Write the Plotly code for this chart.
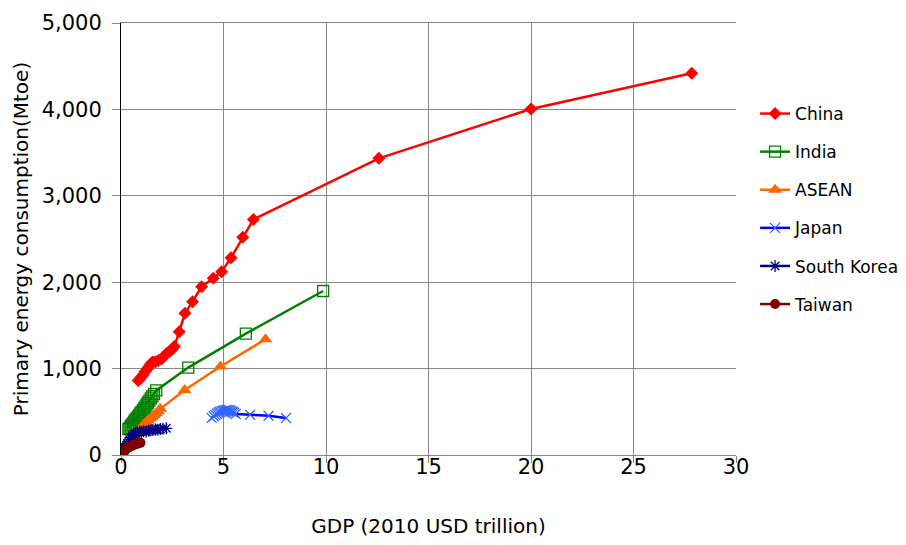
import plotly.graph_objects as go

# ---- data (GDP in 2010 USD trillion, primary energy consumption in Mtoe) ----
china_x = [0.84, 0.92, 1.00, 1.08, 1.18, 1.28, 1.36, 1.45, 1.55, 1.68, 1.82, 1.98, 2.12, 2.25, 2.39,
           2.50, 2.60, 2.84, 3.12, 3.49, 3.93, 4.50, 4.91, 5.37, 5.94, 6.46, 12.58, 20.0, 27.84]
china_y = [862, 880, 905, 930, 965, 995, 1025, 1055, 1075, 1080, 1095, 1110, 1150, 1180, 1205,
           1225, 1255, 1427, 1640, 1775, 1948, 2045, 2122, 2284, 2519, 2727, 3434, 4005, 4418]

india_x = [0.36, 0.41, 0.47, 0.52, 0.58, 0.64, 0.70, 0.76, 0.83, 0.89, 0.94, 1.00, 1.07, 1.13,
           1.19, 1.25, 1.31, 1.38, 1.45, 1.53, 1.61, 1.72, 3.28, 6.09, 9.86]
india_y = [300, 312, 330, 348, 367, 386, 405, 424, 443, 462, 482, 500, 521, 540,
           559, 582, 605, 630, 656, 680, 706, 748, 1012, 1405, 1898]

asean_x = [0.40, 0.48, 0.56, 0.64, 0.72, 0.80, 0.88, 0.96, 1.05, 1.14, 1.23, 1.32, 1.42,
           1.52, 1.62, 1.72, 1.82, 1.92, 3.11, 4.85, 7.05]
asean_y = [150, 172, 195, 218, 242, 266, 290, 312, 335, 358, 380, 400, 420,
           440, 462, 482, 505, 535, 752, 1025, 1340]

japan_x = [4.42, 4.52, 4.60, 4.68, 4.75, 4.82, 4.90, 4.97, 5.04, 5.10, 5.16, 5.22, 5.28, 5.34,
           5.40, 5.46, 5.52, 5.60, 6.30, 7.20, 8.05]
japan_y = [430, 448, 462, 478, 490, 498, 505, 510, 514, 518, 522, 512, 520, 510,
           505, 497, 488, 475, 465, 455, 428]

korea_x = [0.13, 0.16, 0.19, 0.23, 0.27, 0.32, 0.37, 0.42, 0.48, 0.55, 0.62, 0.70, 0.80, 0.91,
           1.00, 1.10, 1.23, 1.35, 1.46, 1.56, 1.68, 1.80, 1.92, 2.05, 2.21]
korea_y = [45, 58, 72, 90, 110, 130, 152, 175, 200, 222, 240, 252, 262, 270,
           268, 276, 272, 282, 286, 289, 295, 292, 300, 305, 309]

taiwan_x = [0.08, 0.12, 0.16, 0.20, 0.25, 0.30, 0.35, 0.40, 0.46, 0.52, 0.58, 0.65, 0.72, 0.80, 0.88, 0.95]
taiwan_y = [38, 46, 54, 62, 70, 78, 86, 93, 100, 106, 112, 118, 124, 130, 136, 142]

x_ticks = [0, 5, 10, 15, 20, 25, 30]
y_ticks = [0, 1000, 2000, 3000, 4000, 5000]
y_tick_labels = ["0", "1,000", "2,000", "3,000", "4,000", "5,000"]

FONT = "DejaVu Sans"
GRID = "#868686"

fig = go.Figure()

series = [
    ("China", china_x, china_y, "#FF0000", dict(symbol="diamond", size=10, color="#FF0000",
                                                 line=dict(width=0))),
    ("India", india_x, india_y, "#008000", dict(symbol="square-open", size=11, color="#008000",
                                                 line=dict(width=1.3, color="#008000"))),
    ("ASEAN", asean_x, asean_y, "#FF6600", dict(symbol="triangle-up", size=12, color="#FF6600",
                                                 line=dict(width=0))),
    ("Japan", japan_x, japan_y, "#0000FF", dict(symbol="x-thin-open", size=10, color="#3366FF",
                                                 line=dict(width=1.3, color="#3366FF"))),
    ("South Korea", korea_x, korea_y, "#000080", dict(symbol="asterisk-open", size=10, color="#000080",
                                                       line=dict(width=1.3, color="#000080"))),
    ("Taiwan", taiwan_x, taiwan_y, "#800000", dict(symbol="circle", size=10, color="#800000",
                                                    line=dict(width=0))),
]

for i, (name, xs, ys, col, mk) in enumerate(series):
    fig.add_trace(go.Scatter(
        x=xs, y=ys, name=name, mode="lines+markers",
        line=dict(color=col, width=2.5), marker=mk,
        legendgroup=f"g{i}",
    ))

# page body has an 8px margin, so the figure is sized to fill the window from (8, 8)
fig.update_layout(
    width=898, height=537,
    margin=dict(l=113, r=170, t=15, b=90, autoexpand=False),
    paper_bgcolor="white", plot_bgcolor="white",
    font=dict(family=FONT, size=20, color="black"),
    showlegend=True,
    legend=dict(
        x=1.031, xanchor="left", y=0.831, yanchor="top",
        font=dict(family=FONT, size=17, color="black"),
        tracegroupgap=13, traceorder="grouped",
        bgcolor="rgba(0,0,0,0)",
    ),
    xaxis=dict(
        range=[0, 30], tickvals=x_ticks, ticktext=[str(v) for v in x_ticks],
        showgrid=True, gridcolor=GRID, gridwidth=1,
        showline=True, linecolor=GRID, linewidth=1, mirror=True,
        ticks="outside", ticklen=7, tickcolor=GRID,
        zeroline=False, automargin=False,
        tickfont=dict(family=FONT, size=21),
        ticklabelstandoff=-14,
        title=dict(text="GDP (2010 USD trillion)", font=dict(family=FONT, size=20), standoff=40),
    ),
    yaxis=dict(
        range=[0, 5000], tickvals=y_ticks, ticktext=y_tick_labels,
        showgrid=True, gridcolor=GRID, gridwidth=1,
        showline=True, linecolor="black", linewidth=1,
        ticks="outside", ticklen=8, tickcolor=GRID,
        zeroline=False, automargin=False,
        tickfont=dict(family=FONT, size=21),
        ticklabelstandoff=6,
        title=dict(text="Primary energy consumption(Mtoe)", font=dict(family=FONT, size=20), standoff=7),
    ),
)

fig.write_html("out.html")
